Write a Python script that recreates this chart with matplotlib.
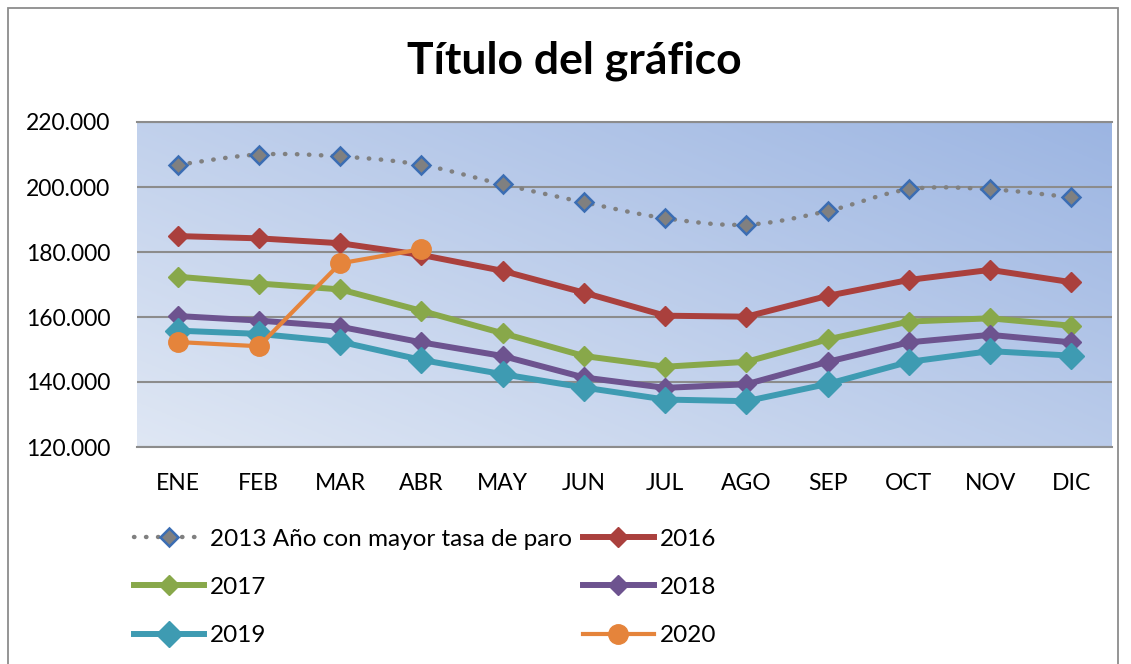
import numpy as np
import matplotlib
matplotlib.use("Agg")
import matplotlib.pyplot as plt
from matplotlib.ticker import FuncFormatter
from matplotlib.patches import Rectangle

plt.rcParams['font.family'] = ['Lato', 'DejaVu Sans']

# data
meses = ['ENE', 'FEB', 'MAR', 'ABR', 'MAY', 'JUN', 'JUL', 'AGO', 'SEP', 'OCT', 'NOV', 'DIC']
paro_2013 = [206800, 210000, 209400, 206800, 200800, 195300, 190400, 188400, 192600, 199300, 199300, 196800]
paro_2016 = [184900, 184200, 182700, 179100, 174200, 167500, 160400, 160100, 166500, 171400, 174500, 170700]
paro_2017 = [172400, 170300, 168500, 161900, 155000, 148000, 144700, 146200, 153100, 158600, 159600, 157300]
paro_2018 = [160300, 158900, 157000, 152200, 148000, 141400, 138200, 139300, 146200, 152200, 154500, 152200]
paro_2019 = [155800, 154800, 152400, 146800, 142400, 138300, 134600, 134100, 139400, 146200, 149500, 148100]
paro_2020 = [152300, 151000, 176500, 180900]


def catmull(x, y, n=20):
    # smooth curve through the points (like Excel "smoothed line")
    x = np.asarray(x, float)
    y = np.asarray(y, float)
    px = np.concatenate([[x[0]], x, [x[-1]]])
    py = np.concatenate([[y[0]], y, [y[-1]]])
    xs, ys = [], []
    t = np.linspace(0, 1, n, endpoint=False)
    for i in range(1, len(px) - 2):
        p0, p1, p2, p3 = px[i - 1], px[i], px[i + 1], px[i + 2]
        q0, q1, q2, q3 = py[i - 1], py[i], py[i + 1], py[i + 2]
        bx = [p1, p1 + (p2 - p0) / 6, p2 - (p3 - p1) / 6, p2]
        by = [q1, q1 + (q2 - q0) / 6, q2 - (q3 - q1) / 6, q2]
        for tt in t:
            c = [(1 - tt) ** 3, 3 * (1 - tt) ** 2 * tt, 3 * (1 - tt) * tt ** 2, tt ** 3]
            xs.append(sum(a * b for a, b in zip(c, bx)))
            ys.append(sum(a * b for a, b in zip(c, by)))
    xs.append(x[-1])
    ys.append(y[-1])
    return xs, ys


fig = plt.figure(figsize=(11.31, 6.64), dpi=100)
ax = fig.add_axes([137 / 1131, 1 - 447 / 664, 975 / 1131, 325 / 664])

# outer chart frame
fig.patches.append(Rectangle((8 / 1131, -0.2), 1110 / 1131, 1.2 - 8 / 664, transform=fig.transFigure,
                             fill=False, edgecolor='#8c8c8c', linewidth=1.3))

# gradient background of plot area
gx, gy = np.meshgrid(np.linspace(0, 1, 200), np.linspace(0, 1, 200))
g = (gx * 0.55 + gy * 0.45)
c0 = np.array([0xdf, 0xe7, 0xf4]) / 255
c1 = np.array([0x9c, 0xb5, 0xe2]) / 255
img = c0[None, None, :] * (1 - g[..., None]) + c1[None, None, :] * g[..., None]
ax.imshow(img, extent=[0, 1, 0, 1], transform=ax.transAxes, origin='lower', aspect='auto', zorder=0)

x = np.arange(len(meses))
ax.set_xlim(-0.5, len(meses) - 0.5)
ax.set_ylim(120000, 220000)
ax.set_yticks(np.arange(120000, 220001, 20000))
ax.yaxis.set_major_formatter(FuncFormatter(lambda v, p: f'{int(v):,}'.replace(',', '.')))
ax.set_xticks(x)
ax.set_xticklabels(meses)
ax.tick_params(length=0, labelsize=16.5, pad=18.5)
ax.tick_params(axis='y', pad=19)
ax.grid(axis='y', color='#8c8c8c', linewidth=1.5, zorder=1)
for s in ['left', 'right']:
    ax.spines[s].set_visible(False)
ax.spines['top'].set_color('#8c8c8c')
ax.spines['bottom'].set_color('#8c8c8c')
ax.spines['top'].set_linewidth(1.5)
ax.spines['bottom'].set_linewidth(1.5)

sx, sy = catmull(x, paro_2013)
ax.plot(sx, sy, color='#808080', linestyle=(0, (0.1, 2.6)), dash_capstyle='round', linewidth=3.2, zorder=2)
ax.plot(x, paro_2013, linestyle='none', marker='D', markersize=9.5, markerfacecolor='#808080',
        markeredgecolor='#3b6db3', markeredgewidth=1.8, zorder=3)
h2013 = ax.plot([], [], color='#808080', linestyle=(0, (0.1, 2.6)), dash_capstyle='round', linewidth=3.2,
                marker='D', markersize=9.5, markerfacecolor='#808080', markeredgecolor='#3b6db3',
                markeredgewidth=1.8)[0]

h2016, = ax.plot(x, paro_2016, color='#aa403d', linewidth=4.3, marker='D', markersize=10, zorder=4)
h2017, = ax.plot(x, paro_2017, color='#88a84a', linewidth=4.3, marker='D', markersize=10, zorder=4)
h2018, = ax.plot(x, paro_2018, color='#6d538f', linewidth=4.3, marker='D', markersize=10, zorder=4)
h2019, = ax.plot(x, paro_2019, color='#3e9bb2', linewidth=4.3, marker='D', markersize=13, zorder=4)
h2020, = ax.plot(x[:len(paro_2020)], paro_2020, color='#e5843b', linewidth=3.0, marker='o',
                 markersize=14, zorder=5)

fig.text(574 / 1131, 1 - 61 / 664, 'Título del gráfico', ha='center', va='center', fontsize=32, fontweight='bold')

handles = [h2013, h2017, h2019, h2016, h2018, h2020]
labels = ['2013 Año con mayor tasa de paro', '2017', '2019', '2016', '2018', '2020']
fig.legend(handles, labels, ncol=2, loc='upper left', bbox_to_anchor=(124 / 1131, 1 - 519 / 664),
           frameon=False, fontsize=17.5, handlelength=2.9, handletextpad=0.25, labelspacing=1.12,
           columnspacing=0.45, borderaxespad=0)

fig.savefig('out.png', dpi=100)
